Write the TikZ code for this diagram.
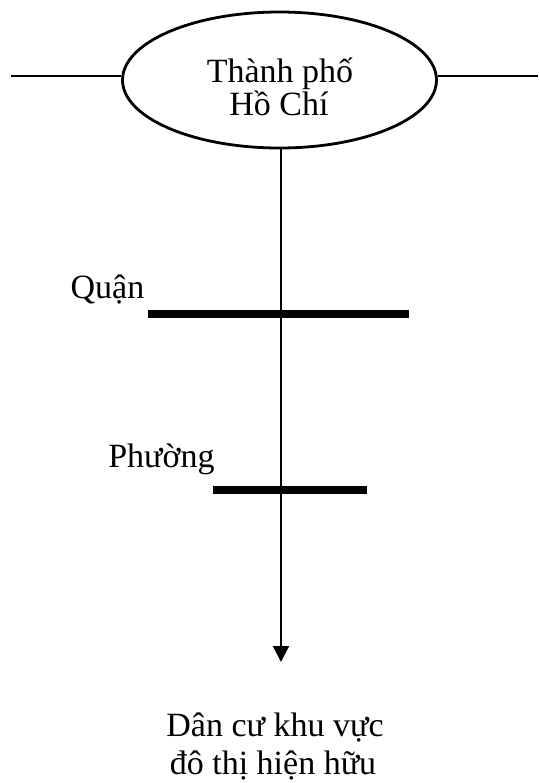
\documentclass[tikz,border=0pt]{standalone}
\usepackage{fontspec}
\setmainfont{Liberation Serif}
\usetikzlibrary{shapes.geometric,arrows.meta}
\begin{document}
\begin{tikzpicture}[x=0.5pt,y=-0.5pt,
  thin line/.style={line width=1pt,black},
  bar/.style={line width=3.6pt,black},
  lbl/.style={inner sep=0pt,anchor=base,font=\fontsize{17}{17}\selectfont}]
\useasboundingbox (0,0) rectangle (538,783);
\node[ellipse,draw,line width=1.4pt,minimum width=157pt,minimum height=68pt,inner sep=0pt] (city) at (279.5,80) {};
\node[lbl] (t1) at (280,82) {Thành phố};
\node[lbl] (t2) at (279,115) {Hồ Chí};
\coordinate (L) at (11,76);
\coordinate (R) at (538,76);
\draw[thin line] (L) -- (L -| city.west);
\draw[thin line] (R -| city.east) -- (R);
\coordinate (tip) at (281,662);
\draw[thin line,-{Triangle[width=8pt,length=8pt]}] ([xshift=0.75pt]city.south) -- (tip);
\coordinate (q1) at (148,314);
\coordinate (q2) at (409,314);
\draw[bar] (q1) -- (q2);
\node[lbl] (quan) at (107.5,298) {Quận};
\coordinate (p1) at (213,490);
\coordinate (p2) at (367,490);
\draw[bar] (p1) -- (p2);
\node[lbl] (phuong) at (161.5,467) {Phường};
\node[lbl] (b1) at (275,736) {Dân cư khu vực};
\node[lbl] (b2) at (273,774) {đô thị hiện hữu};
\end{tikzpicture}
\end{document}
